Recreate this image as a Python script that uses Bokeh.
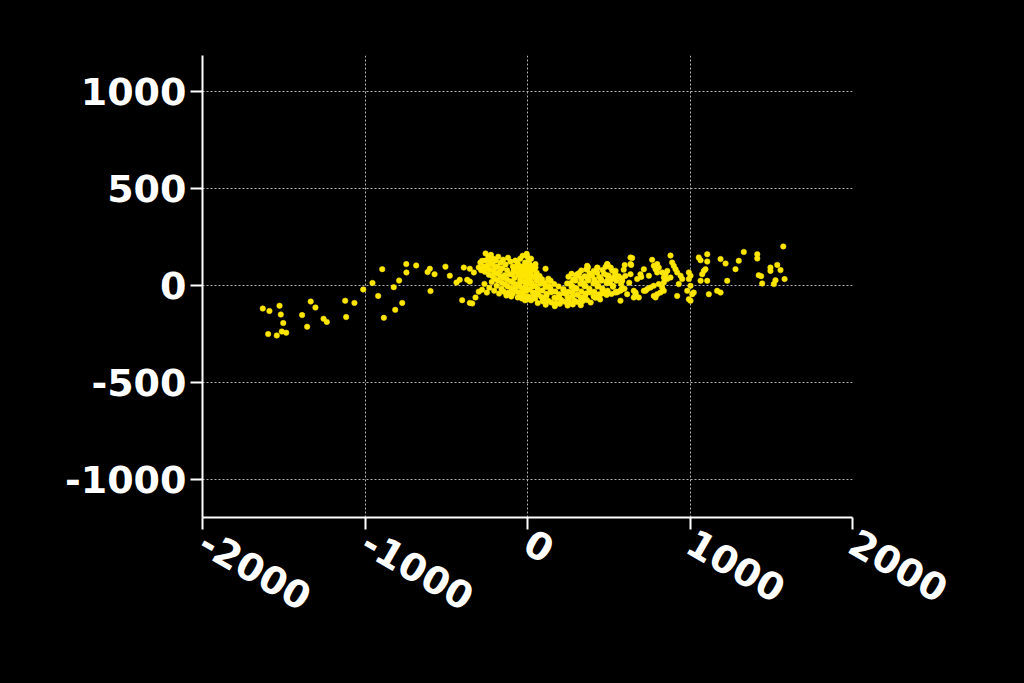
import math
from bokeh.plotting import figure
from bokeh.models import Range1d, FixedTicker, ColumnDataSource
from bokeh.embed import file_html
from bokeh.resources import INLINE

# ---- data ----
x_ticks = [-2000, -1000, 0, 1000, 2000]
y_ticks = [-1000, -500, 0, 500, 1000]

west_points = [
    (-1629, -117), (-1588, -130), (-1526, -103), (-1518, -148), (-1503, -192),
    (-1596, -249), (-1543, -256), (-1512, -236), (-1485, -242), (-1387, -151),
    (-1334, -81), (-1305, -112), (-1356, -211), (-1255, -170), (-1235, -186),
    (-1122, -77), (-1065, -88), (-1116, -161), (-1011, -19), (-954, 15),
    (-919, -52), (-894, 86), (-884, -165), (-823, -7), (-814, -124),
    (-790, 27), (-771, -88), (-746, 112), (-745, 69), (-685, 105),
    (-615, 71), (-601, 88), (-597, -27), (-572, 60), (-505, 99),
    (-478, 52), (-437, 17), (-392, 94), (-355, 88), (-330, 69),
    (-417, 31), (-371, 31), (-355, 22), (-402, -74), (-355, -88),
    (-340, -91), (-320, -60),
]

left_cluster_points = [
    (-290, 120), (-279, 129), (-258, 167), (-240, 150), (-225, 160), (-210, 140),
    (-195, 130), (-180, 150), (-165, 120), (-150, 135), (-135, 110), (-120, 145),
    (-105, 125), (-90, 100), (-75, 130), (-60, 115), (-45, 140), (-30, 155),
    (-15, 120), (-5, 165), (0, 150), (-20, 95),
    (-300, 95), (-285, 80), (-270, 100), (-262, 72), (-248, 91), (-238, 57),
    (-231, 83), (-217, 51), (-206, 73), (-203, 36), (-188, 63), (-183, 27),
    (-167, 48), (-158, 16), (-153, 43), (-137, 7), (-128, 34), (-122, -3),
    (-107, 23), (-98, -12), (-93, 18), (-78, -23), (-72, 8), (-57, -33),
    (-52, -2), (-38, -42), (-33, -12), (-18, -53), (-9, -27), (0, -70), (5, -55),
    (-95, 60), (-85, 80), (-80, 40), (-70, 70), (-65, 100), (-55, 55),
    (-50, 85), (-45, 30), (-40, 65), (-35, 100), (-30, 45), (-25, 75),
    (-20, 20), (-15, 55), (-10, 90), (-8, 10), (-5, 40), (-3, 120),
    (0, 70), (2, 25), (3, 100), (-12, -10), (-25, -25), (-50, 10),
    (-75, -5), (-110, 60), (-125, 80), (-140, 55), (-155, 90), (-170, 75),
    (-185, 100), (-200, 95), (-215, 110), (-230, 125), (-245, 105), (-260, 130),
    (-300, -30), (-280, -20), (-265, 10), (-250, -35), (-235, -10), (-220, 20),
    (-205, -25), (-190, 0), (-175, -40), (-160, -15), (-145, -30), (-130, -50),
    (-115, -35), (-100, -55), (-90, -40), (-60, -60), (-35, -65), (-15, -75),
]

core_points = [
    (112, -97), (168, -105), (199, -93), (247, -102), (279, -96), (328, -100),
    (63, -89), (94, -80), (147, -86), (176, -91), (229, -82), (258, -88), (307, -84), (338, -79), (389, -86),
    (22, -75), (47, -66), (97, -70), (128, -77), (178, -64), (207, -72), (255, -69), (288, -76),
    (337, -67), (366, -73), (418, -62), (447, -70),
    (8, -60), (39, -49), (86, -58), (117, -51), (166, -61), (196, -47), (246, -57), (277, -52),
    (327, -59), (356, -48), (407, -55), (436, -60), (487, -47),
    (33, -35), (67, -45), (117, -41), (146, -33), (196, -44), (226, -38), (277, -31), (306, -46),
    (357, -40), (386, -34), (437, -45), (466, -38), (517, -42), (553, -33),
    (11, -19), (61, -30), (91, -24), (141, -18), (171, -29), (221, -22), (251, -31), (301, -17),
    (331, -29), (381, -20), (411, -30), (461, -19), (493, -25), (546, -30), (578, -18),
    (31, -4), (62, -15), (111, -6), (141, -14), (191, -3), (221, -16), (271, -5), (301, -13),
    (351, -2), (381, -15), (431, -4), (461, -14), (526, -5), (597, -15),
    (4, 10), (51, 0), (81, 11), (131, -1), (164, 9), (244, 12), (276, -1), (326, 11),
    (356, 0), (406, 12), (436, 1), (487, 13), (526, 0), (576, 9),
    (26, 14), (57, 27), (106, 15), (134, 28), (264, 13), (296, 27), (346, 15), (375, 28),
    (426, 16), (456, 27), (507, 15), (547, 26), (626, 16),
    (16, 33), (51, 38), (89, 34), (128, 37), (281, 32), (331, 36), (369, 39), (411, 33),
    (451, 37), (519, 34), (579, 38),
    (11, 52), (41, 48), (74, 51), (252, 47), (299, 53), (352, 49), (398, 52), (442, 46),
    (489, 54), (561, 49), (602, 51),
    (19, 63), (56, 67), (271, 62), (318, 66), (382, 64), (429, 68), (471, 62), (538, 66),
    (9, 78), (36, 83), (331, 79), (361, 84), (408, 77), (462, 81), (521, 79), (592, 83),
    (6, 93), (27, 97), (372, 96), (431, 92), (481, 98), (512, 94),
    (16, 108), (49, 112), (492, 111), (598, 107),
    (8, 127), (22, 140),
    (49, 94), (111, 88), (142, 26), (314, 52), (367, 86), (490, 112), (542, 77),
    (634, 112), (583, 26), (583, -17), (542, -35), (490, 26), (449, -43), (429, 94),
    (367, 103), (306, 60), (634, 146), (531, 43), (500, 52), (634, 60), (572, -26),
    (613, -43), (665, -35), (685, -60), (572, -77), (675, 35), (716, -26),
]

east_points = [
    (644, 143), (638, 108), (716, 86), (695, 60), (700, 46), (767, 134),
    (777, 103), (798, 112), (808, 94), (788, 86), (747, 52), (829, 69),
    (839, 43), (880, 156), (890, 120), (900, 103), (911, 86), (921, 69),
    (942, 52), (952, 35), (860, 77), (849, 60), (860, 35), (839, 17),
    (808, 9), (777, 0), (757, -9), (737, -17), (726, -26), (654, -26),
    (665, -43), (654, -60), (829, -9), (839, -26), (818, -35), (798, -43),
    (777, -52), (788, -60), (931, 9), (993, 69), (1003, 52), (993, 35),
    (1003, 0), (1014, -43), (993, -69), (921, -52), (1065, 132), (1106, 125),
    (1106, 163), (1075, 60), (1085, 77), (1095, 86), (1106, 26), (1116, -43),
    (1167, -26), (1188, -35), (1188, 138), (1219, 115), (1229, 26), (1280, 86),
    (1300, 129), (1331, 175), (1414, 163), (1414, 141), (1423, 55), (1438, 50),
    (1444, 12), (1495, 94), (1495, 77), (1537, 108), (1557, 81), (1526, 29),
    (1582, 35), (1516, 9), (1574, 203), (1054, 146), (880, 43), (983, -26),
    (1003, -77), (1023, -35), (1065, 26), (798, 69),
]

all_points = west_points + left_cluster_points + core_points + east_points
xs = [pt[0] for pt in all_points]
ys = [pt[1] for pt in all_points]

# ---- figure ----
W, H = 1020, 680
p = figure(width=W, height=H, output_backend="svg", toolbar_location=None,
           x_range=Range1d(-2000, 2000), y_range=Range1d(-1195, 1188),
           min_border_left=202, min_border_right=W - 852,
           min_border_top=55, min_border_bottom=H - 517)

p.background_fill_color = "black"
p.border_fill_color = "black"
p.outline_line_color = None

src = ColumnDataSource(data=dict(x=xs, y=ys))
p.scatter("x", "y", source=src, size=5.5, fill_color="#FFE600",
          line_color="#FFE600", line_width=0.5)

p.xaxis.ticker = FixedTicker(ticks=x_ticks)
p.yaxis.ticker = FixedTicker(ticks=y_ticks)
p.xaxis.major_label_overrides = {t: str(t) for t in x_ticks}
p.yaxis.major_label_overrides = {t: str(t) for t in y_ticks}

for ax in (p.xaxis[0], p.yaxis[0]):
    ax.axis_line_color = "white"
    ax.axis_line_width = 2
    ax.major_tick_line_color = "white"
    ax.major_tick_line_width = 2
    ax.major_tick_out = 12
    ax.major_tick_in = 0
    ax.minor_tick_line_color = None
    ax.major_label_text_color = "white"
    ax.major_label_text_font = "DejaVu Sans"
    ax.major_label_text_font_style = "bold"
    ax.major_label_text_font_size = "38px"
    ax.major_label_standoff = 4

p.xaxis.major_label_orientation = -math.pi / 6
p.xaxis.major_label_standoff = 10

for g in (p.xgrid[0], p.ygrid[0]):
    g.grid_line_color = "#b0b0b0"
    g.grid_line_dash = "2 2"
    g.grid_line_width = 1

html = file_html(p, INLINE)
html = html.replace("<head>", "<head><style>html,body{background:#000;}</style>", 1)
open("out.html", "w").write(html)
